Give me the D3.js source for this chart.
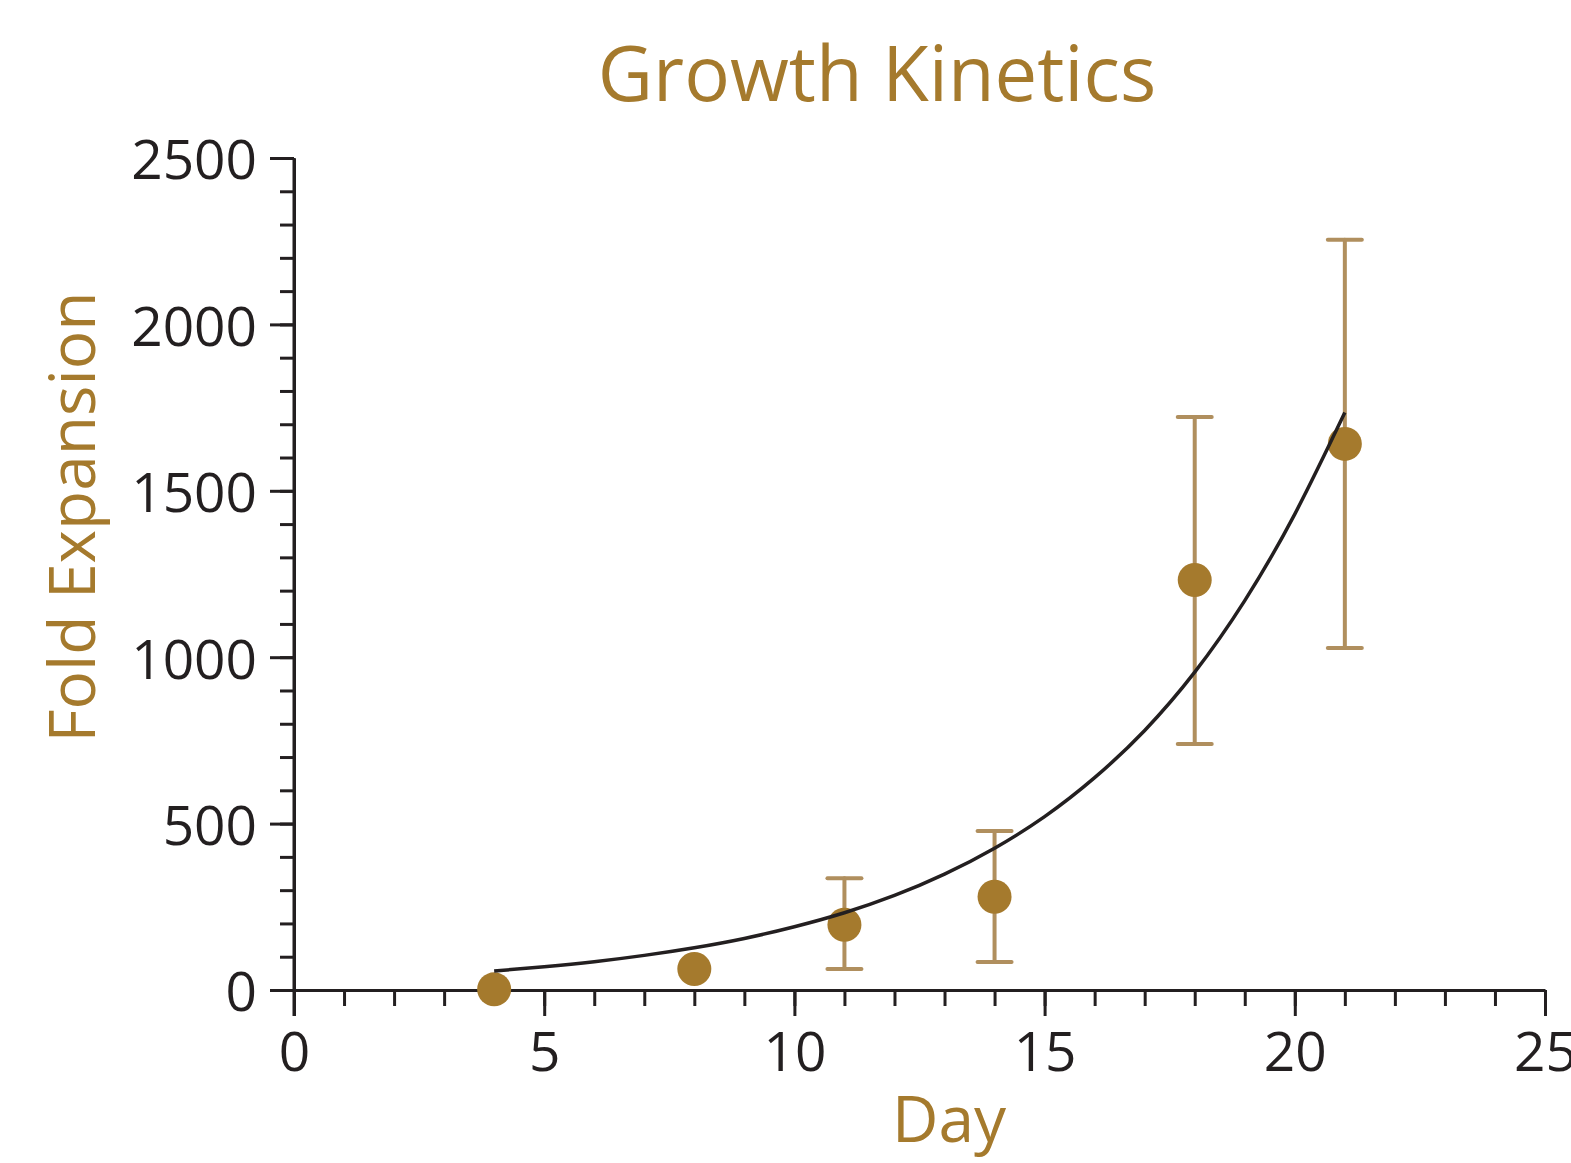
<!DOCTYPE html>
<html>
<head>
<meta charset="utf-8">
<script src="https://cdn.jsdelivr.net/npm/d3@7"></script>
<style>
  body { margin: 0; background: #fff; }
  text { font-family: "Open Sans", "Noto Sans", sans-serif; }
</style>
</head>
<body>
<div id="chart"></div>
<script>
// measured points (day, mean fold expansion, error bar low/high)
const days = [4, 8, 11, 14, 18, 21];
const foldMean = [2, 63, 196, 280, 1232, 1641];
const errLow = [null, null, 63, 84, 739, 1028];
const errHigh = [null, null, 336, 478, 1722, 2254];

// fitted curve
const fitDays = [4, 5, 6, 7, 8, 9, 10, 11, 12, 13, 14, 15, 16, 17, 18, 19, 20, 21];
const fitValues = [57, 70, 85, 104, 127, 155, 190, 232, 284, 348, 426, 521, 638, 780, 955, 1170, 1430, 1735];

const xTicks = [0, 5, 10, 15, 20, 25];
const yTicks = [0, 500, 1000, 1500, 2000, 2500];

const width = 1571, height = 1163;
const gold = '#a57a2d';
const barColor = '#b08f5e';
const ink = '#231f20';

const svg = d3.select('#chart').append('svg')
  .attr('width', width)
  .attr('height', height);

const x = d3.scaleLinear().domain([0, 25]).range([294, 1545]);
const y = d3.scaleLinear().domain([0, 2500]).range([990, 158]);

/* ---------- axes ---------- */
const xMinor = d3.range(0, 26, 1);
const yMinor = d3.range(0, 2501, 100);

svg.append('g')
  .attr('transform', 'translate(0,' + y(0) + ')')
  .call(d3.axisBottom(x).tickValues(xMinor).tickSize(16).tickFormat(''))
  .call(g => g.select('.domain').remove());

svg.append('g')
  .attr('transform', 'translate(' + x(0) + ',0)')
  .call(d3.axisLeft(y).tickValues(yMinor).tickSize(14).tickFormat(''))
  .call(g => g.select('.domain').remove());

const xAxis = svg.append('g')
  .attr('transform', 'translate(0,' + y(0) + ')')
  .call(d3.axisBottom(x).tickValues(xTicks).tickFormat(d3.format('d'))
    .tickSize(26).tickPadding(16).tickSizeOuter(0));

const yAxis = svg.append('g')
  .attr('transform', 'translate(' + x(0) + ',0)')
  .call(d3.axisLeft(y).tickValues(yTicks).tickFormat(d3.format('d'))
    .tickSize(24).tickPadding(13).tickSizeOuter(0));

yAxis.selectAll('.tick text').attr('dy', '0.38em');

svg.selectAll('.tick line, .domain')
  .attr('stroke', ink)
  .attr('stroke-width', 3);

svg.selectAll('.tick text')
  .attr('fill', ink)
  .style('font-size', '55px');

// y axis line runs down to the x=0 tick
svg.append('line')
  .attr('x1', x(0)).attr('x2', x(0))
  .attr('y1', y(2500)).attr('y2', y(0) + 26)
  .attr('stroke', ink).attr('stroke-width', 3);

/* ---------- fit curve ---------- */
const line = d3.line()
  .x((d, i) => x(fitDays[i]))
  .y(d => y(d))
  .curve(d3.curveNatural);

/* ---------- error bars ---------- */
const bars = svg.append('g');
days.forEach((d, i) => {
  if (errLow[i] == null) return;
  const cx = x(d);
  bars.append('line')
    .attr('x1', cx).attr('x2', cx)
    .attr('y1', y(errLow[i])).attr('y2', y(errHigh[i]));
  [errLow[i], errHigh[i]].forEach(v => {
    bars.append('line')
      .attr('x1', cx - 17).attr('x2', cx + 17)
      .attr('y1', y(v)).attr('y2', y(v));
  });
});
bars.selectAll('line')
  .attr('stroke', barColor)
  .attr('stroke-width', 4)
  .attr('stroke-linecap', 'round');

/* ---------- points ---------- */
svg.append('g').selectAll('circle')
  .data(days)
  .enter().append('circle')
  .attr('cx', d => x(d))
  .attr('cy', (d, i) => y(foldMean[i]))
  .attr('r', 17)
  .attr('fill', gold);

svg.append('path')
  .datum(fitValues)
  .attr('d', line)
  .attr('fill', 'none')
  .attr('stroke', ink)
  .attr('stroke-width', 3.5);

/* ---------- titles ---------- */
svg.append('text')
  .attr('x', 877).attr('y', 101)
  .attr('text-anchor', 'middle')
  .attr('fill', gold)
  .style('font-size', '76px')
  .text('Growth Kinetics');

svg.append('text')
  .attr('x', 949).attr('y', 1142)
  .attr('text-anchor', 'middle')
  .attr('fill', gold)
  .style('font-size', '64px')
  .text('Day');

svg.append('text')
  .attr('transform', 'translate(95,517) rotate(-90)')
  .attr('text-anchor', 'middle')
  .attr('fill', gold)
  .style('font-size', '64px')
  .text('Fold Expansion');
</script>
</body>
</html>
